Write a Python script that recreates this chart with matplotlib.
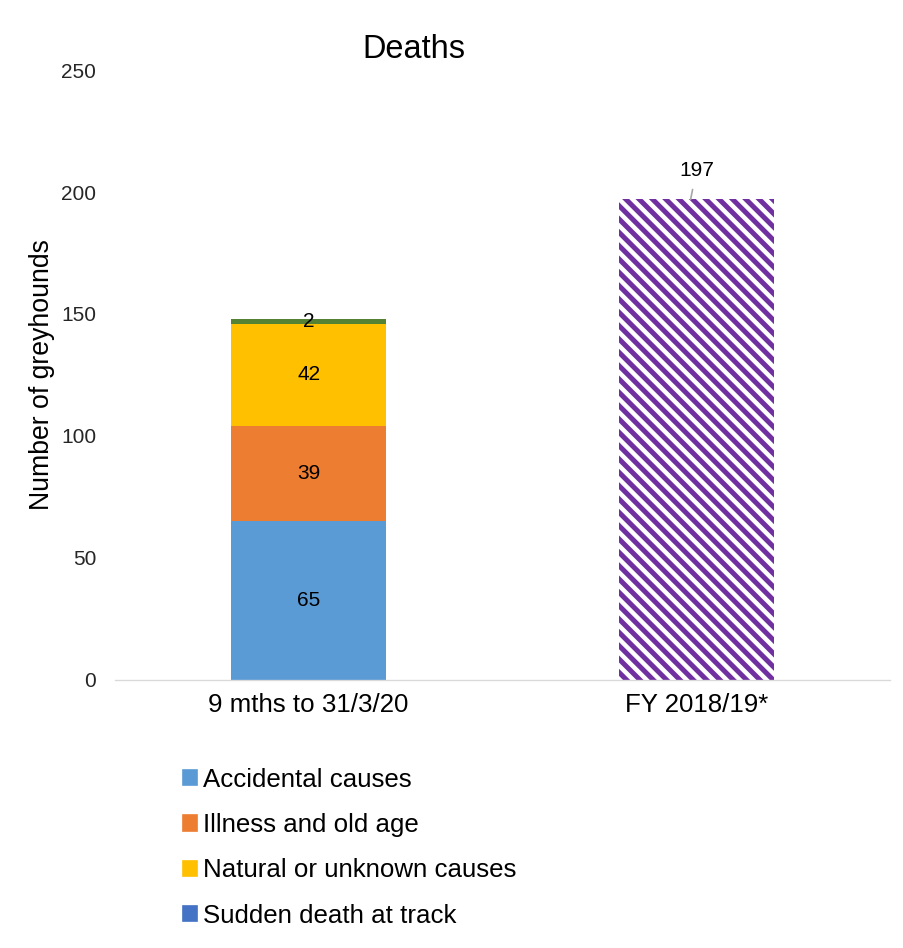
import matplotlib.pyplot as plt
from matplotlib.patches import Patch

plt.rcParams['font.family'] = ['Liberation Sans', 'DejaVu Sans']
plt.rcParams['hatch.linewidth'] = 3

categories = ['9 mths to 31/3/20', 'FY 2018/19*']
causes = ['Accidental causes', 'Illness and old age', 'Natural or unknown causes', 'Sudden death at track']
values_2020 = [65, 39, 42, 2]
total_2019 = 197
seg_colors = ['#5B9BD5', '#ED7D31', '#FFC000', '#548235']
legend_colors = ['#5B9BD5', '#ED7D31', '#FFC000', '#4472C4']

# dpi 120 so the hatch spacing comes out close to the original stripes
fig = plt.figure(figsize=(903 / 120, 948 / 120), dpi=120)
ax = fig.add_axes([0.127, 0.283, 0.859, 0.643])

# stacked first bar
bottom = 0
for v, c in zip(values_2020, seg_colors):
    ax.bar(0, v, 0.4, bottom=bottom, color=c, edgecolor='none')
    ax.text(0, bottom + v / 2, str(v), ha='center', va='center', fontsize=12.5)
    bottom += v

# hatched second bar
ax.bar(1, total_2019, 0.4, facecolor='white', edgecolor='#7030A0', hatch='\\\\\\', linewidth=0)
ax.annotate(str(total_2019), xy=(0.985, total_2019), xytext=(1, total_2019 + 12),
            ha='center', va='center', fontsize=12.5,
            arrowprops=dict(arrowstyle='-', color='#A6A6A6', lw=1, shrinkA=4, shrinkB=0))

ax.set_xlim(-0.5, 1.5)
ax.set_ylim(0, 250)
ax.set_yticks(range(0, 251, 50))
ax.set_xticks([0, 1])
ax.set_xticklabels(categories, fontsize=15.5)
ax.tick_params(axis='y', length=0, labelsize=12.5, colors='#262626', pad=11)
ax.tick_params(axis='x', length=0, pad=8)
for s in ['top', 'right', 'left']:
    ax.spines[s].set_visible(False)
ax.spines['bottom'].set_color('#D9D9D9')
ax.set_ylabel('Number of greyhounds', fontsize=16, labelpad=4)

fig.text(414 / 903, 1 - 50 / 948, 'Deaths', ha='center', va='center', fontsize=19.5)

handles = [Patch(color=c, label=l) for c, l in zip(legend_colors, causes)]
fig.legend(handles=handles, loc='upper left', bbox_to_anchor=(0.188, 0.204),
           frameon=False, fontsize=15.5, handlelength=0.54, handleheight=0.54,
           handletextpad=0.25, labelspacing=0.83, borderpad=0)

fig.savefig('out.png', dpi=120)
